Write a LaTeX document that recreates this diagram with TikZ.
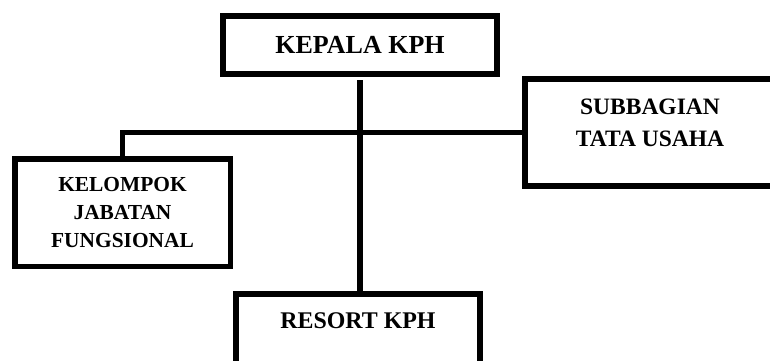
\documentclass[tikz,border=0pt]{standalone}
\usepackage{fontspec}
\setmainfont{Liberation Serif}
\begin{document}
\begin{tikzpicture}[x=1pt,y=-1pt,
  box/.style={draw=black,line width=6pt,fill=white,inner sep=0pt,outer sep=0pt},
  conn/.style={draw=black,line width=5.5pt,line join=miter,line cap=butt},
  lbl/.style={align=center,inner sep=0pt,text=black}]
\clip (0,0) rectangle (770,360);
\fill[white] (0,0) rectangle (770,360);
% boxes
\node[box,minimum width=274pt,minimum height=58pt,
  font={\fontsize{26}{30}\selectfont\bfseries}] (kepala) at (360,45) {KEPALA KPH};
\node[box,minimum width=275pt,minimum height=107pt] (sub) at (662.5,132.5) {};
\node[lbl,font={\fontsize{23.5}{32}\selectfont\bfseries}] (subt) at (650,123) {SUBBAGIAN\\TATA USAHA};
\node[box,line width=5.5pt,minimum width=215.5pt,minimum height=107.5pt,
  font={\fontsize{21.4}{28}\selectfont\bfseries},align=center] (kjf) at (122.5,212.5) {KELOMPOK\\JABATAN\\FUNGSIONAL};
\node[box,minimum width=244pt,minimum height=90pt] (resort) at (358,339) {};
\node[lbl,font={\fontsize{23.9}{28}\selectfont\bfseries}] (rest) at (358,321) {RESORT KPH};
% connectors
\draw[conn,line width=6pt] ([yshift=-6pt]kepala.south) -- (kepala.south |- resort.north);
\draw[conn] (kjf.north) |- (sub.west);
\end{tikzpicture}
\end{document}
